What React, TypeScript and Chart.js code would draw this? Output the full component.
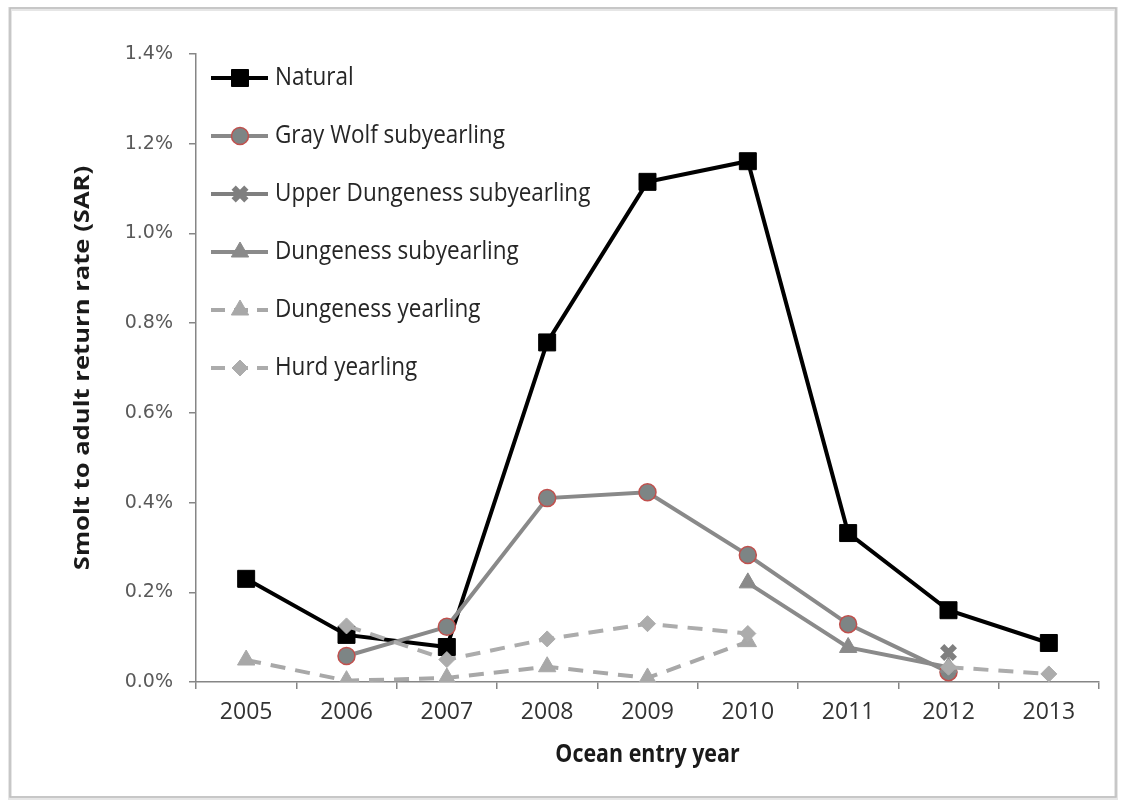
import React, { useEffect, useRef } from 'react';
import { Chart, registerables } from 'chart.js';
import { drawPoint } from 'chart.js/helpers';

Chart.register(...registerables);

// ---- Data (SAR in percent) ----
const years = ['2005', '2006', '2007', '2008', '2009', '2010', '2011', '2012', '2013'];
const natural = [0.23, 0.105, 0.078, 0.757, 1.115, 1.161, 0.332, 0.16, 0.087];
const grayWolfSub = [null, 0.058, 0.123, 0.41, 0.423, 0.283, 0.129, 0.022, null];
const upperDungenessSub = [null, null, null, null, null, null, null, 0.066, null];
const dungenessSub = [null, null, null, null, null, 0.221, 0.077, 0.033, null];
const dungenessYearling = [0.049, 0.003, 0.009, 0.034, 0.009, 0.09, null, null, null];
const hurdYearling = [null, 0.125, 0.05, 0.096, 0.13, 0.108, null, 0.033, 0.018];
const seriesNames = [
  'Natural',
  'Gray Wolf subyearling',
  'Upper Dungeness subyearling',
  'Dungeness subyearling',
  'Dungeness yearling',
  'Hurd yearling',
];
const yTicks = [0, 0.2, 0.4, 0.6, 0.8, 1.0, 1.2, 1.4];
const xTitle = 'Ocean entry year';
const yTitle = 'Smolt to adult return rate (SAR)';

const seriesStyles = [
  { color: '#000000', fill: '#000000', pbColor: '#000000', width: 4, dash: [], style: 'rect', radius: 12, pbw: 1 },
  { color: '#898989', fill: '#7d8585', pbColor: '#c0504d', width: 4, dash: [], style: 'circle', radius: 8.5, pbw: 1.5 },
  { color: '#7f7f7f', fill: '#7f7f7f', pbColor: '#7f7f7f', width: 4, dash: [], style: 'crossRot', radius: 9, pbw: 6 },
  { color: '#8a8a8a', fill: '#8a8a8a', pbColor: '#8a8a8a', width: 4, dash: [], style: 'triangle', radius: 10, pbw: 1 },
  { color: '#a8a8a8', fill: '#a8a8a8', pbColor: '#a8a8a8', width: 4, dash: [15, 10], style: 'triangle', radius: 10, pbw: 1 },
  { color: '#acacac', fill: '#acacac', pbColor: '#acacac', width: 4, dash: [15, 10], style: 'rectRot', radius: 8, pbw: 1 },
];

const seriesData = [natural, grayWolfSub, upperDungenessSub, dungenessSub, dungenessYearling, hurdYearling];

const framePlugin = {
  id: 'frame',
  beforeDraw(chart: any) {
    const ctx = chart.ctx;
    ctx.save();
    ctx.fillStyle = '#ffffff';
    ctx.fillRect(0, 0, chart.width, chart.height);
    ctx.strokeStyle = '#e6e6e6';
    ctx.lineWidth = 4;
    ctx.strokeRect(10, 9, 1106, 789);
    ctx.strokeStyle = '#bdbdbd';
    ctx.lineWidth = 1.5;
    ctx.strokeRect(10, 8, 1106, 789);
    ctx.restore();
  },
};

const legendPlugin = {
  id: 'customLegend',
  afterDatasetsDraw(chart: any) {
    const ctx = chart.ctx;
    ctx.save();
    seriesNames.forEach((name, i) => {
      const s = seriesStyles[i];
      const y = 78 + i * 58;
      ctx.strokeStyle = s.color;
      ctx.lineWidth = s.width;
      ctx.setLineDash(s.dash.length ? [14, 9] : []);
      ctx.beginPath();
      ctx.moveTo(211, y);
      ctx.lineTo(268, y);
      ctx.stroke();
      ctx.setLineDash([]);
      ctx.fillStyle = s.fill;
      ctx.strokeStyle = s.pbColor;
      ctx.lineWidth = s.pbw;
      drawPoint(ctx, { pointStyle: s.style, radius: s.radius, rotation: 0, borderWidth: s.pbw } as any, 240, y);
      ctx.save();
      ctx.translate(275, y);
      ctx.scale(1, 1.15);
      ctx.fillStyle = '#262626';
      ctx.font = '22.5px "Open Sans"';
      ctx.textAlign = 'left';
      ctx.textBaseline = 'middle';
      ctx.fillText(name, 0, 0);
      ctx.restore();
    });
    ctx.restore();
  },
};

const titlesPlugin = {
  id: 'axisTitles',
  afterDraw(chart: any) {
    const ctx = chart.ctx;
    const ca = chart.chartArea;
    ctx.save();
    ctx.fillStyle = '#1a1a1a';
    ctx.font = 'bold 21px "Open Sans"';
    ctx.textAlign = 'center';
    ctx.textBaseline = 'middle';
    ctx.save();
    ctx.translate(83, (ca.top + ca.bottom) / 2);
    ctx.rotate(-Math.PI / 2);
    ctx.scale(1.22, 1);
    ctx.fillText(yTitle, 0, 0);
    ctx.restore();
    ctx.save();
    ctx.translate((ca.left + ca.right) / 2, 755);
    ctx.scale(1.02, 1.15);
    ctx.fillText(xTitle, 0, 0);
    ctx.restore();
    ctx.restore();
  },
};

export default function App() {
  const ref = useRef<HTMLCanvasElement>(null);
  useEffect(() => {
    document.body.style.margin = '0';
    const canvas = ref.current!;
    const chart = new Chart(canvas, {
      type: 'line',
      data: {
        labels: years,
        datasets: seriesNames.map((name, i) => {
          const s = seriesStyles[i];
          return {
            label: name,
            data: seriesData[i] as any,
            borderColor: s.color,
            backgroundColor: s.fill,
            borderWidth: s.width,
            borderDash: s.dash,
            pointStyle: s.style as any,
            pointRadius: s.radius,
            pointBackgroundColor: s.fill,
            pointBorderColor: s.pbColor,
            pointBorderWidth: s.pbw,
            tension: 0,
            spanGaps: false,
            order: 10 - i,
          };
        }),
      },
      options: {
        responsive: false,
        animation: false,
        events: [],
        layout: { padding: { top: 54, right: 24, left: 0, bottom: 0 } },
        plugins: { legend: { display: false }, tooltip: { enabled: false } },
        scales: {
          x: {
            offset: true,
            grid: {
              drawOnChartArea: false,
              drawTicks: true,
              tickLength: 7,
              color: '#868686',
              lineWidth: 1.5,
              offset: true,
            },
            border: { color: '#868686', width: 1.5 },
            ticks: {
              font: { family: 'Open Sans', size: 23 },
              color: '#333333',
              padding: 10,
              maxRotation: 0,
              autoSkip: false,
            },
            afterFit: (s: any) => {
              s.height = 121;
            },
          },
          y: {
            min: yTicks[0],
            max: yTicks[yTicks.length - 1],
            afterBuildTicks: (s: any) => {
              s.ticks = yTicks.map((v) => ({ value: v }));
            },
            ticks: {
              callback: (v: any) => Number(v).toFixed(1) + '%',
              font: { family: 'DejaVu Sans', size: 19 },
              color: '#595959',
              padding: 16,
            },
            grid: { drawOnChartArea: false, tickLength: 7, color: '#868686', lineWidth: 1.5 },
            border: { color: '#868686', width: 1.5 },
            afterFit: (s: any) => {
              s.width = 196;
            },
          },
        },
      },
      plugins: [framePlugin, legendPlugin, titlesPlugin],
    });
    return () => chart.destroy();
  }, []);
  return <canvas ref={ref} width={1123} height={803} style={{ display: 'block' }} />;
}
